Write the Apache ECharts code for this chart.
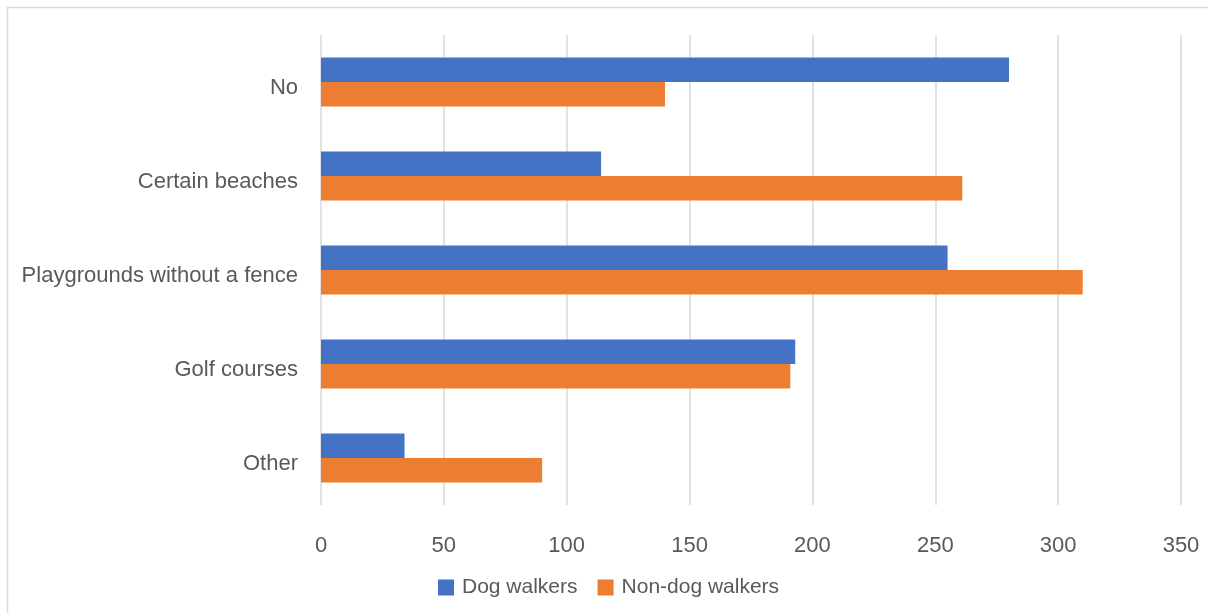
<!DOCTYPE html>
<html>
<head>
<meta charset="utf-8">
<script src="https://cdn.jsdelivr.net/npm/echarts@6/dist/echarts.min.js"></script>
<style>
html,body{margin:0;padding:0;background:#fff;}
#chart{width:1208px;height:613px;}
</style>
</head>
<body>
<div id="chart"></div>
<script>
const categories = ['No', 'Certain beaches', 'Playgrounds without a fence', 'Golf courses', 'Other'];
const dogWalkers = [280, 114, 255, 193, 34];
const nonDogWalkers = [140, 261, 310, 191, 90];
const seriesNames = ['Dog walkers', 'Non-dog walkers'];
const xTicks = { min: 0, max: 350, interval: 50 };

const FONT = '"Liberation Sans", Arial, sans-serif';
const chart = echarts.init(document.getElementById('chart'), null, { renderer: 'canvas' });
chart.setOption({
  animation: false,
  backgroundColor: '#ffffff',
  textStyle: { fontFamily: FONT },
  graphic: [{
    type: 'rect',
    shape: { x: 7.5, y: 7.5, width: 1400, height: 800 },
    style: { fill: 'none', stroke: '#d9d9d9', lineWidth: 1.5 },
    silent: true
  }],
  grid: { left: 321, right: 27, top: 35, bottom: 108, containLabel: false },
  legend: {
    data: seriesNames,
    left: 433,
    top: 572,
    icon: 'rect',
    itemWidth: 16,
    itemHeight: 16,
    itemGap: 20,
    textStyle: { color: '#595959', fontSize: 21, fontFamily: FONT, padding: [2, 0, 0, 3] }
  },
  xAxis: {
    type: 'value',
    min: xTicks.min,
    max: xTicks.max,
    interval: xTicks.interval,
    axisLine: { show: false },
    axisTick: { show: false },
    axisLabel: { color: '#595959', fontSize: 22, fontFamily: FONT, margin: 30 },
    splitLine: { show: true, lineStyle: { color: '#d9d9d9', width: 1.5 } }
  },
  yAxis: {
    type: 'category',
    data: categories,
    inverse: true,
    axisLine: { show: false },
    axisTick: { show: false },
    splitLine: { show: false },
    axisLabel: { color: '#595959', fontSize: 22, fontFamily: FONT, margin: 23, verticalAlign: 'top', lineHeight: 12 }
  },
  series: [
    {
      name: seriesNames[0],
      type: 'bar',
      data: dogWalkers,
      itemStyle: { color: '#4472C4' },
      barGap: '0%',
      barCategoryGap: '48%'
    },
    {
      name: seriesNames[1],
      type: 'bar',
      data: nonDogWalkers,
      itemStyle: { color: '#ED7D31' },
      barGap: '0%',
      barCategoryGap: '48%'
    }
  ]
});
</script>
</body>
</html>
